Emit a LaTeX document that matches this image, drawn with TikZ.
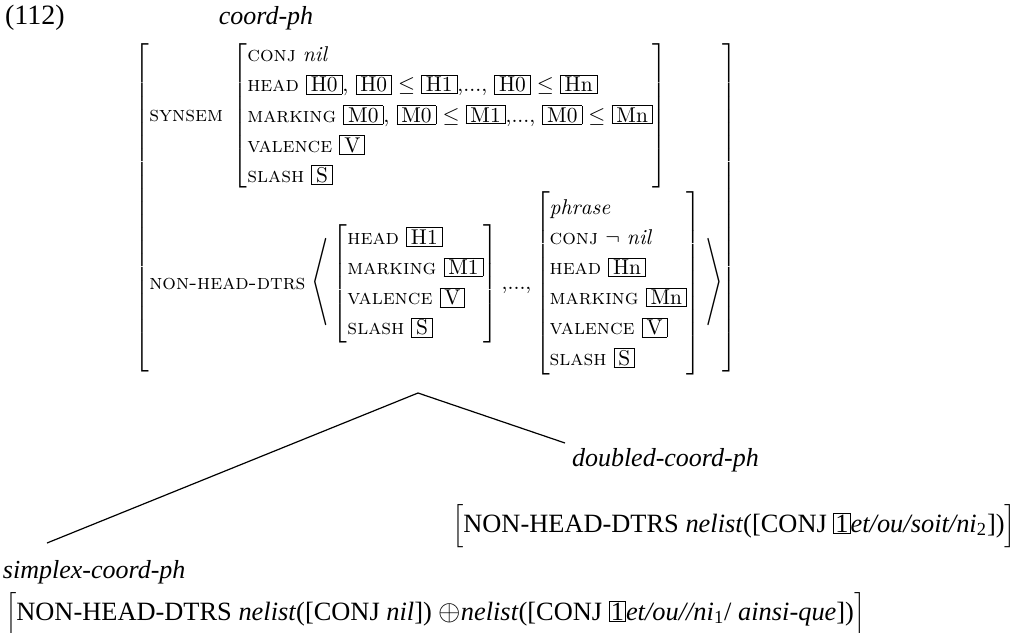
\documentclass[tikz,border=0pt]{standalone}
\usepackage{fontspec}
\usepackage{amsmath}
\usepackage{graphicx}
\newfontfamily\tms{Liberation Serif}
\usetikzlibrary{positioning}

\newcommand{\avmtag}[1]{{\setlength{\fboxsep}{0.7pt}\fbox{\kern1.3pt#1\kern1.3pt}}}
\newcommand{\numtag}[1]{{\setlength{\fboxsep}{0.6pt}\fbox{#1}}}
\newcommand{\avmdots}{\mbox{,...,}}
\newcommand{\tallangle}[1]{\vcenter{\hbox{\scalebox{1}[1.33]{$\left#1\vrule height 15pt depth 15pt width 0pt\right.\kern-\nulldelimiterspace$}}}}

\begin{document}
\begin{tikzpicture}[
  x=0.5pt, y=-0.5pt,
  every node/.style = {inner sep=0pt, outer sep=0pt},
  typename/.style = {font=\tms\fontsize{13}{15}\selectfont\itshape},
  constraint/.style = {font=\tms\fontsize{13.2}{15}\selectfont, anchor=west},
  avm/.style = {font=\fontsize{10.7}{12.8}\selectfont},
  branch/.style = {line width=0.6pt}
]
\useasboundingbox (0,0) rectangle (1027,632);

\node[font=\tms\fontsize{14}{16}\selectfont, anchor=west] (exnum) at (5,18) {(112)};
\node[typename] (coordtype) at (266,18) {coord-ph};

\node[avm] (coordavm) at (436,208) {\renewcommand{\arraystretch}{1.18}$\left[\begin{array}{@{}l@{}}
  \textsc{synsem}\;\left[\begin{array}{@{}l@{}}
    \textsc{conj}\ \mathit{nil}\\
    \textsc{head}\ \avmtag{H0}{,}\ \avmtag{H0}\le\avmtag{H1}\avmdots\ \avmtag{H0}\le\avmtag{Hn}\\
    \textsc{marking}\ \avmtag{M0}{,}\ \avmtag{M0}\le\avmtag{M1}\avmdots\ \avmtag{M0}\le\avmtag{Mn}\\
    \textsc{valence}\ \avmtag{V}\\
    \textsc{slash}\ \avmtag{S}
  \end{array}\right]\\[3.5ex]
  \textsc{non-head-dtrs}\;\tallangle{\langle}\left[\begin{array}{@{}l@{}}
    \textsc{head}\ \avmtag{H1}\\
    \textsc{marking}\ \avmtag{M1}\\
    \textsc{valence}\ \avmtag{V}\\
    \textsc{slash}\ \avmtag{S}
  \end{array}\right]\avmdots\left[\begin{array}{@{}l@{}}
    \mathit{phrase}\\
    \textsc{conj}\ \neg\ \mathit{nil}\\
    \textsc{head}\ \avmtag{Hn}\\
    \textsc{marking}\ \avmtag{Mn}\\
    \textsc{valence}\ \avmtag{V}\\
    \textsc{slash}\ \avmtag{S}
  \end{array}\right]\tallangle{\rangle}
\end{array}\right]$};

% mother and the two subtypes
\coordinate (apex) at (418,393);
\coordinate (dblfoot) at (565,443);
\coordinate (smpfoot) at (47,543);
\node[typename, anchor=west] (dbltype) at (572,460) {doubled-coord-ph};
\node[typename, anchor=west] (smptype) at (3,572) {simplex-coord-ph};

\draw[branch] (apex) -- (dblfoot);
\draw[branch] (apex) -- (smpfoot);

\node[constraint] (dblcons) at (452,526)
  {$\Big[$NON-HEAD-DTRS \textit{nelist}([CONJ \numtag{1}\textit{et/ou/soit/ni}\textsubscript{2}])$\Big]$};
\node[constraint] (smpcons) at (5,614)
  {$\Big[$NON-HEAD-DTRS \textit{nelist}([CONJ \textit{nil}]) {\fontsize{14}{14}\selectfont$\oplus$}\textit{nelist}([CONJ \numtag{1}\textit{et/ou//ni}\textsubscript{1}/ \textit{ainsi-que}])$\Big]$};

\end{tikzpicture}
\end{document}
